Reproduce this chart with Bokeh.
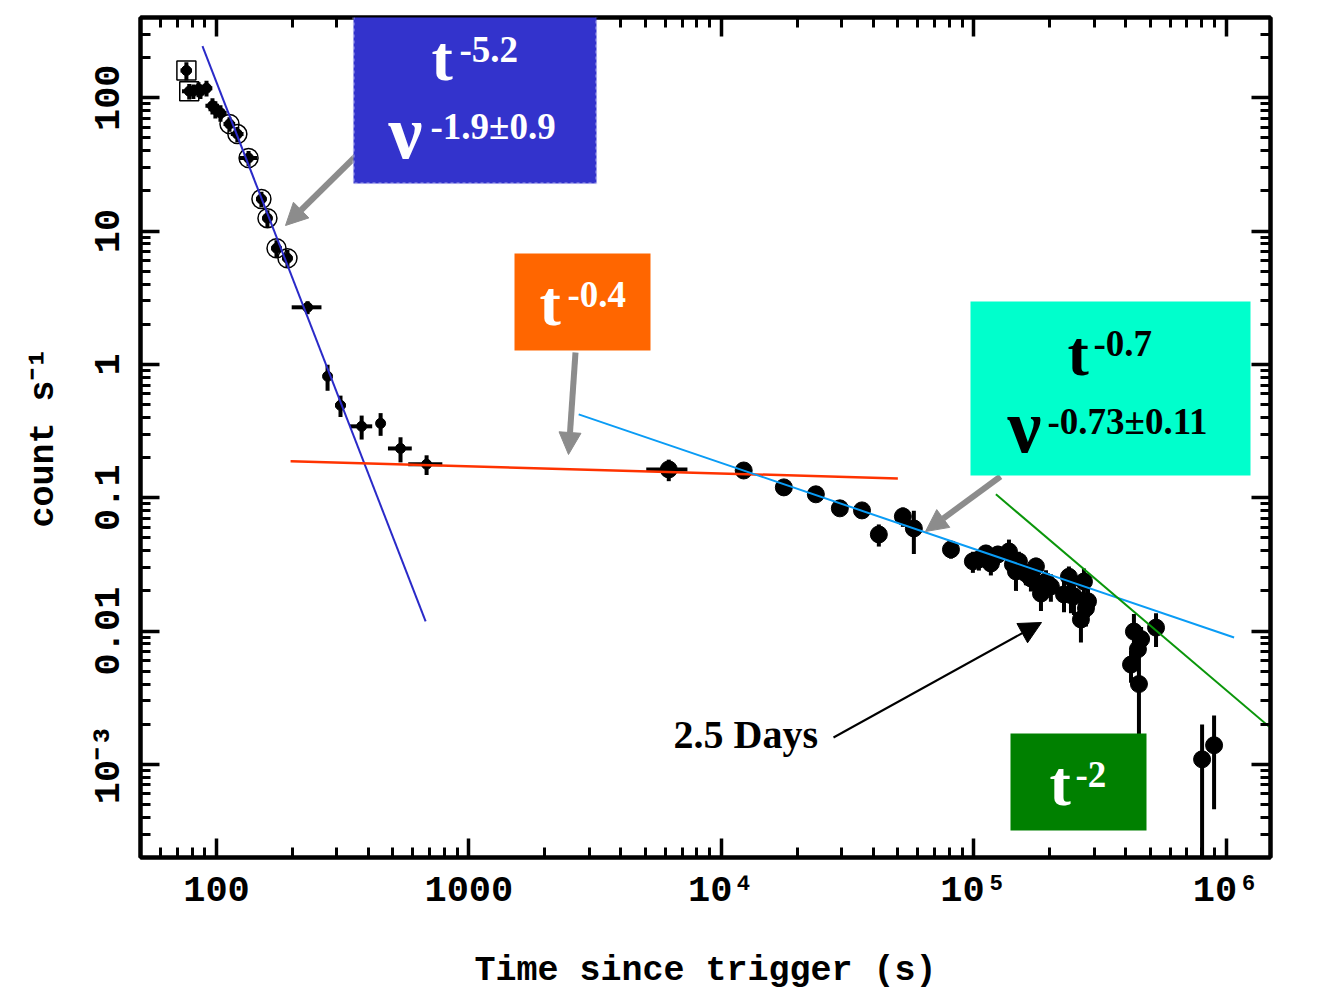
import numpy as np
from bokeh.plotting import figure
from bokeh.models import LogAxis, FixedTicker, Label, BoxAnnotation, Arrow, NormalHead
from bokeh.embed import file_html
from bokeh.resources import INLINE

# ---------------- data ----------------
# early light curve points with x and y error bars
t_early = [76, 78, 81, 84.9, 86.4, 91.3, 96.4, 99, 103.7, 112.6, 121, 134, 150.7,
           159.2, 172.9, 191.1, 229.6, 275.5, 310, 376, 447, 536, 680]
t_early_err = [4, 5, 5, 5, 5, 5, 6, 6, 6, 6, 7, 11, 7, 7, 8, 9, 31, 8, 15, 38, 18, 58, 105]
c_early = [160, 112, 112, 116, 112, 118, 87, 82, 77, 63.5, 53.4, 35.3, 17.4,
           12.5, 7.44, 6.26, 2.68, 0.814, 0.493, 0.343, 0.361, 0.234, 0.178]
c_early_err = [25, 15, 14, 15, 14, 16, 12, 12, 11, 8, 7, 4.5, 2.3,
               1.8, 1.1, 0.95, 0.3, 0.18, 0.09, 0.07, 0.07, 0.05, 0.03]
# open squares and open circles around some early points
t_square = [76, 78]
c_square = [160, 112]
t_circle = [112.6, 121, 134, 150.7, 159.2, 172.9, 191.1]
c_circle = [63.5, 53.4, 35.3, 17.4, 12.5, 7.44, 6.26]

# late points (filled dots)
t_late = [6194, 12270, 17700, 23700, 29500, 36100, 42100, 52430, 57950, 81300,
          99300, 104900, 111800, 117000, 124700, 138000, 143100, 151100, 147100, 161100,
          168600, 176500, 179800, 184800, 193400, 202300, 228000, 238500, 243000, 249700,
          266100, 273500, 278600, 283800, 420200, 431500, 447600, 451700, 460700, 527900,
          803600, 896500]
t_late_err = [1150, 300, 400, 500, 600, 700, 800, 1000, 1100, 1500,
              1800, 1900, 2000, 2100, 2200, 2500, 2600, 2700, 2600, 2900,
              3000, 3200, 3200, 3300, 3500, 3600, 4000, 4200, 4300, 4400,
              4700, 4800, 4900, 5000, 7000, 7000, 7000, 7000, 7000, 8000,
              12000, 13000]
c_late = [0.163, 0.160, 0.1195, 0.106, 0.0832, 0.0803, 0.0530, 0.0724, 0.0588, 0.0409,
          0.0333, 0.0344, 0.0382, 0.0321, 0.0375, 0.0395, 0.0316, 0.0333, 0.0280, 0.0270,
          0.0248, 0.0305, 0.0227, 0.0191, 0.0235, 0.0216, 0.0188, 0.0255, 0.0186, 0.0182,
          0.0122, 0.0235, 0.0148, 0.0167, 0.0056, 0.0099, 0.0073, 0.0040, 0.0087, 0.0106,
          0.00109, 0.00139]
c_late_err = [0.03, 0.008, 0.007, 0.007, 0.006, 0.006, 0.01, 0.012, 0.021, 0.006,
              0.006, 0.006, 0.006, 0.006, 0.006, 0.009, 0.006, 0.006, 0.008, 0.005,
              0.005, 0.005, 0.005, 0.005, 0.005, 0.005, 0.005, 0.005, 0.005, 0.005,
              0.004, 0.006, 0.004, 0.004, 0.0015, 0.0035, 0.002, 0.0035, 0.002, 0.003,
              0.0009, 0.00093]

# power-law fit segments (end points)
blue_t = [88, 674]
blue_c = [244, 0.0118]
red_t = [196.6, 50080]
red_c = [0.1873, 0.1396]
cyan_t = [2723, 1.076e6]
cyan_c = [0.422, 0.00894]
green_t = [122500, 2.234e6]
green_c = [0.106, 0.00099]

# axes
X_START, X_END = 50, 1.5e6
Y_START, Y_END = 2e-4, 400
x_major = [100, 1000, 1e4, 1e5, 1e6]
x_major_labels = ["100", "1000", "10\u2074", "10\u2075", "10\u2076"]
y_major = [1e-3, 0.01, 0.1, 1, 10, 100]
y_major_labels = ["10\u207b\u00b3", "0.01", "0.1", "1", "10", "100"]
x_title = "Time since trigger (s)"
y_title = "count s\u207b\u00b9"

# ---------------- layout helpers ----------------
FL, FT, FW, FH = 140, 17, 1130, 840   # frame position on the canvas (px)


def P(xpx, ypx):
    lx = np.log10(X_START) + (xpx - FL) / FW * np.log10(X_END / X_START)
    ly = np.log10(Y_END) - (ypx - FT) / FH * np.log10(Y_END / Y_START)
    return float(10 ** lx), float(10 ** ly)


def minor(lo, hi):
    out = []
    for e in range(-5, 8):
        for m in range(2, 10):
            v = m * 10.0 ** e
            if lo <= v <= hi:
                out.append(v)
    return out


p = figure(x_axis_type="log", y_axis_type="log",
           x_range=(X_START, X_END), y_range=(Y_START, Y_END),
           frame_width=FW, frame_height=FH,
           min_border_left=FL, min_border_top=FT,
           min_border_right=50, min_border_bottom=130,
           output_backend="svg", toolbar_location=None,
           background_fill_color="white", border_fill_color="white")
p.grid.visible = False
p.outline_line_color = "black"
p.outline_line_width = 4

bottom = p.below[0]
left = p.left[0]
top = LogAxis()
right = LogAxis()
p.add_layout(top, "above")
p.add_layout(right, "right")

for ax in [bottom, top]:
    ax.ticker = FixedTicker(ticks=x_major, minor_ticks=minor(X_START, X_END))
for ax in [left, right]:
    ax.ticker = FixedTicker(ticks=y_major, minor_ticks=minor(Y_START, Y_END))

for ax in [bottom, top, left, right]:
    ax.axis_line_width = 4
    ax.axis_line_color = "black"
    ax.major_tick_line_width = 3.5
    ax.minor_tick_line_width = 3
    ax.major_tick_in = 19
    ax.major_tick_out = 0
    ax.minor_tick_in = 10
    ax.minor_tick_out = 0
    ax.major_label_text_font = "Liberation Mono"
    ax.major_label_text_font_style = "bold"
    ax.major_label_text_color = "black"
    ax.major_label_text_font_size = "37px"
    ax.axis_label_text_font = "Liberation Mono"
    ax.axis_label_text_font_style = "bold"
    ax.axis_label_text_font_size = "35px"
    ax.axis_label_text_color = "black"

for ax in [top, right]:
    ax.major_label_text_color = None
    ax.major_label_text_font_size = "1px"
    ax.major_label_standoff = 0

bottom.major_label_overrides = {v: s for v, s in zip(x_major, x_major_labels)}
bottom.major_label_standoff = 12
bottom.axis_label = x_title
bottom.axis_label_standoff = 36

left.major_label_overrides = {v: s for v, s in zip(y_major, y_major_labels)}
left.major_label_orientation = "vertical"
left.major_label_standoff = 10
left.axis_label = y_title
left.axis_label_standoff = 22

# ---------------- data marks ----------------
te = np.array(t_early, float); tee = np.array(t_early_err, float)
ce = np.array(c_early, float); cee = np.array(c_early_err, float)
tl = np.array(t_late, float); tle = np.array(t_late_err, float)
cl = np.array(c_late, float); cle = np.array(c_late_err, float)

p.segment(te - tee, ce, te + tee, ce, line_color="black", line_width=4)
p.segment(te, ce - cee, te, ce + cee, line_color="black", line_width=4)
p.scatter(te, ce, size=10, color="black")
p.scatter(t_square, c_square, marker="square", size=19, fill_color=None,
          line_color="black", line_width=1.5)
p.scatter(t_circle, c_circle, marker="circle", size=19, fill_color=None,
          line_color="black", line_width=1.5)

p.segment(tl - tle, cl, tl + tle, cl, line_color="black", line_width=4)
lo = np.where(cl - cle > 0, cl - cle, 1e-6)
p.segment(tl, lo, tl, cl + cle, line_color="black", line_width=4)
p.scatter(tl, cl, size=17, color="black")

p.line(blue_t, blue_c, line_color="#2a2ac8", line_width=2)
p.line(red_t, red_c, line_color="#ff3300", line_width=2.5)
p.line(cyan_t, cyan_c, line_color="#0a9cf5", line_width=2)
p.line(green_t, green_c, line_color="#0a960a", line_width=2)

# ---------------- annotations ----------------
def box(l, t, r, b, color, **kw):
    x0, y0 = P(l, t)
    x1, y1 = P(r, b)
    p.add_layout(BoxAnnotation(left=x0, right=x1, top=y0, bottom=y1,
                               fill_color=color, fill_alpha=1.0, **kw))


def lab(xpx, base_px, text, size, color, font="Liberation Serif", style="bold"):
    # base_px: wanted baseline; Bokeh draws the glyphs ~0.35 em below the anchor
    x, y = P(xpx, base_px - 0.35 * size)
    p.add_layout(Label(x=x, y=y, text=text, text_font=font, text_font_style=style,
                       text_font_size=f"{size}px", text_color=color,
                       text_align="left", text_baseline="alphabetic"))


def arrow(x0, y0, x1, y1, color, width, head=22):
    a, b = P(x0, y0)
    c, d = P(x1, y1)
    end = NormalHead(size=head, fill_color=color, line_color=color) if head else None
    p.add_layout(Arrow(x_start=a, y_start=b, x_end=c, y_end=d, end=end,
                       line_color=color, line_width=width))


# gray pointer arrows
arrow(356, 155, 285, 225, "#8c8c8c", 6)
arrow(575, 352, 568, 454, "#8c8c8c", 6)
arrow(1000, 476, 925, 531, "#8c8c8c", 6)
# black arrow "2.5 Days"
arrow(833, 737, 1041, 622, "black", 2, head=22)
lab(673, 748, "2.5 Days", 40, "black")

# boxes
box(353, 5, 596, 183, "#3333cc", line_color="#e6e6ff", line_width=3, line_dash="3 3")
box(514, 253, 650, 350, "#ff6600", line_color=None)
box(970, 301, 1250, 475, "#00ffcc", line_color=None)
box(1010, 733, 1146, 830, "#008000", line_color=None)

lab(431, 80, "t", 64, "white")
lab(459, 62, "-5.2", 37, "white")
lab(388, 158, "\u03bd", 76, "white")
lab(430, 139, "-1.9\u00b10.9", 37, "white")

lab(539, 325, "t", 64, "white")
lab(567, 307, "-0.4", 37, "white")

lab(1067, 375, "t", 64, "black")
lab(1093, 356, "-0.7", 37, "black")
lab(1007, 452, "\u03bd", 76, "black")
lab(1047, 434, "-0.73\u00b10.11", 37, "black")

lab(1049, 805, "t", 64, "white")
lab(1075, 787, "-2", 37, "white")

open("out.html", "w").write(file_html(p, INLINE))
